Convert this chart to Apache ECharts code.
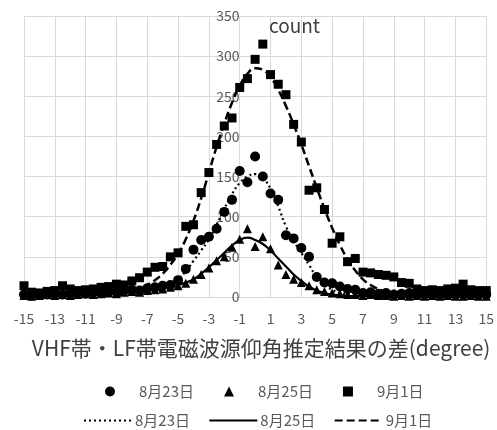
<!DOCTYPE html>
<html>
<head>
<meta charset="utf-8">
<script src="https://cdn.jsdelivr.net/npm/echarts@6/dist/echarts.min.js"></script>
<style>
  html, body { margin: 0; padding: 0; background: #fff; }
  #chart { width: 497px; height: 430px; }
</style>
</head>
<body>
<div id="chart"></div>
<script>
// x positions (degree)
const xs = [-15,-14.5,-14,-13.5,-13,-12.5,-12,-11.5,-11,-10.5,-10,-9.5,-9,-8.5,-8,-7.5,-7,-6.5,-6,-5.5,-5,-4.5,-4,-3.5,-3,-2.5,-2,-1.5,-1,-0.5,0,0.5,1,1.5,2,2.5,3,3.5,4,4.5,5,5.5,6,6.5,7,7.5,8,8.5,9,9.5,10,10.5,11,11.5,12,12.5,13,13.5,14,14.5,15];

// measured counts
const aug23 = [3,2,4,3,5,3,4,5,4,6,5,7,6,8,9,8,11,12,14,15,21,35,59,71,75,85,106,121,157,143,175,150,129,121,77,73,61,50,25,18,17,13,10,9,5,6,4,5,3,4,5,3,4,6,3,5,4,6,4,5,3];
const aug25 = [2,1,2,3,2,3,2,3,4,3,4,5,4,6,7,6,8,9,10,12,14,17,22,28,36,45,50,62,72,85,63,75,60,40,28,22,18,14,9,7,5,4,3,3,2,3,2,2,1,2,1,2,1,2,1,2,1,1,2,1,1];
const sep1  = [14,6,5,7,8,14,10,8,9,10,12,13,16,15,20,24,31,37,38,50,55,88,90,130,155,190,213,223,261,272,296,315,277,265,252,215,193,133,136,109,67,75,44,48,31,30,28,27,25,18,17,10,8,9,8,10,11,16,9,8,8];

// fitted curves
const aug23Fit = [1,1,1,1,1,1,1,1,1,2,2,2,2,3,3,4,5,7,10,15,22,32,45,58,72,90,110,128,142,150,153,148,135,113,88,70,55,40,25,15,9,5,3,2,1,1,1,1,1,0,0,0,0,0,0,0,0,0,0,0,0];
const aug25Fit = [1,1,1,1,2,2,2,2,3,3,3,4,4,5,6,7,8,9,11,13,15,18,22,29,37,46,55,64,71,74,71,66,58,48,38,28,20,13,8,5,3,2,1,1,1,1,0,0,0,0,0,0,0,0,0,0,0,0,0,0,0];
const sep1Fit  = [1,1,1,1,1,1,2,2,2,3,3,4,5,6,8,11,15,21,29,40,54,72,95,123,155,187,216,242,263,278,285,283,274,258,238,215,190,163,136,110,86,65,47,33,22,15,10,7,5,4,3,2,2,1,1,1,1,1,1,1,1];

const seriesNames = ['8月23日', '8月25日', '9月1日'];
const fitNames = ['8月23日 ', '8月25日 ', '9月1日 '];
const xTitle = 'VHF帯・LF帯電磁波源仰角推定結果の差(degree)';
const yTitle = 'count';

function pairs(vals) { return xs.map((x, i) => [x, vals[i]]); }

const FONT = '"Noto Sans CJK JP", "Noto Sans", sans-serif';
const GRID_LEFT = 24, GRID_RIGHT = 10;
const chart = echarts.init(document.getElementById('chart'), null, { renderer: 'canvas' });
const plotWidth = 497 - GRID_LEFT - GRID_RIGHT;

chart.setOption({
  animation: false,
  backgroundColor: '#ffffff',
  textStyle: { fontFamily: FONT },
  title: {
    text: yTitle, left: 264, top: 11,
    textStyle: { fontSize: 19, fontWeight: 'normal', color: '#404040', fontFamily: FONT }
  },
  grid: { left: GRID_LEFT, right: GRID_RIGHT, top: 16, bottom: 133 },
  xAxis: {
    type: 'value', min: -15, max: 15, interval: 2,
    axisLine: { show: false }, axisTick: { show: false },
    splitLine: { show: true, lineStyle: { color: '#d9d9d9', width: 1 } },
    axisLabel: { fontSize: 14, color: '#595959', margin: 15, fontFamily: FONT },
    name: xTitle, nameLocation: 'middle', nameGap: 41,
    nameTextStyle: { fontSize: 21, color: '#404040', fontFamily: FONT, padding: [0, 0, 0, 12] }
  },
  yAxis: {
    type: 'value', min: 0, max: 350, interval: 50, z: 0,
    position: 'left', offset: -plotWidth / 2,
    axisLine: { show: false, onZero: false },
    axisTick: { show: false },
    splitLine: { show: true, lineStyle: { color: '#d9d9d9', width: 1 } },
    axisLabel: { fontSize: 14, color: '#595959', margin: 16, fontFamily: FONT }
  },
  legend: [
    {
      left: 100, top: 379, itemWidth: 10, itemHeight: 10, itemGap: 30,
      textStyle: { fontSize: 15, color: '#595959', fontFamily: FONT, padding: [0, 0, 0, 19] },
      data: [
        { name: seriesNames[0], icon: 'circle' },
        { name: seriesNames[1], icon: 'triangle' },
        { name: seriesNames[2], icon: 'rect' }
      ]
    },
    {
      left: 78, top: 408, itemWidth: 48, itemHeight: 10, itemGap: 15,
      itemStyle: { opacity: 0, borderWidth: 0 },
      textStyle: { fontSize: 15, color: '#595959', fontFamily: FONT, padding: [0, 0, 0, -2] },
      data: fitNames
    }
  ],
  series: [
    { name: fitNames[0], type: 'line', data: pairs(aug23Fit), smooth: true, symbol: 'none',
      lineStyle: { color: '#000', width: 2.2, type: [2, 3] }, itemStyle: { color: '#000' }, z: 2 },
    { name: fitNames[1], type: 'line', data: pairs(aug25Fit), smooth: true, symbol: 'none',
      lineStyle: { color: '#000', width: 2.2, type: 'solid' }, itemStyle: { color: '#000' }, z: 2 },
    { name: fitNames[2], type: 'line', data: pairs(sep1Fit), smooth: true, symbol: 'none',
      lineStyle: { color: '#000', width: 2.5, type: [8, 4] }, itemStyle: { color: '#000' }, z: 2 },
    { name: seriesNames[0], type: 'scatter', data: pairs(aug23), symbol: 'circle', symbolSize: 10,
      itemStyle: { color: '#000', opacity: 1 }, z: 3 },
    { name: seriesNames[1], type: 'scatter', data: pairs(aug25), symbol: 'triangle', symbolSize: 9,
      itemStyle: { color: '#000', opacity: 1 }, z: 3 },
    { name: seriesNames[2], type: 'scatter', data: pairs(sep1), symbol: 'rect', symbolSize: 9,
      itemStyle: { color: '#000', opacity: 1 }, z: 3 }
  ]
});
</script>
</body>
</html>
